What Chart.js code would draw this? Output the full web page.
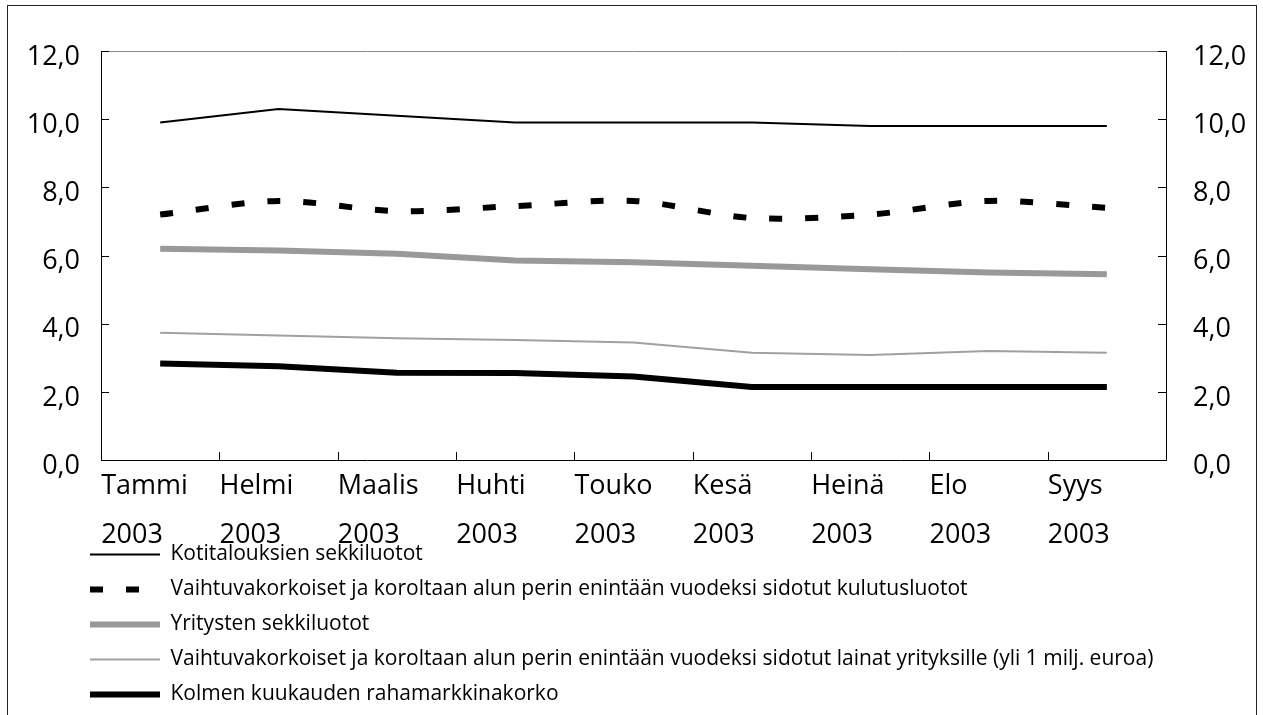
<!DOCTYPE html>
<html>
<head>
<meta charset="utf-8">
<script src="https://cdn.jsdelivr.net/npm/chart.js@4/dist/chart.umd.min.js"></script>
<style>
  html, body { margin: 0; padding: 0; background: #fff; }
  canvas { display: block; }
</style>
</head>
<body>
<canvas id="chart" width="1263" height="715"></canvas>
<script>
// ---- data ----
const months = ['Tammi', 'Helmi', 'Maalis', 'Huhti', 'Touko', 'Kesä', 'Heinä', 'Elo', 'Syys'];
const year = '2003';
const kotitalousSekki = [9.9, 10.3, 10.1, 9.9, 9.9, 9.9, 9.8, 9.8, 9.8];
const kulutusluotot = [7.2, 7.6, 7.3, 7.45, 7.6, 7.1, 7.2, 7.6, 7.4];
const yritystenSekki = [6.2, 6.15, 6.05, 5.85, 5.8, 5.7, 5.6, 5.5, 5.45];
const yrityslainat = [3.73, 3.65, 3.57, 3.52, 3.45, 3.15, 3.08, 3.2, 3.15];
const rahamarkkinakorko = [2.83, 2.75, 2.56, 2.55, 2.45, 2.14, 2.14, 2.14, 2.14];
const yMin = 0, yMax = 12, yStep = 2;

const FONT = "'Open Sans', 'DejaVu Sans', sans-serif";
const fmt = v => Number(v).toFixed(1).replace('.', ',');

// let the axis labels spill outside their boxes (the 2003 row runs into the legend)
const unclipPlugin = {
  id: 'unclip',
  afterLayout(chart) {
    chart.scales.x.bottom = chart.height;
    chart.scales.y.left = 0;
  }
};

// inward tick marks, grey top edge and the outer frame
const framePlugin = {
  id: 'frame',
  afterDraw(chart) {
    const { ctx, chartArea: a, scales } = chart;
    ctx.save();
    ctx.lineWidth = 1;
    ctx.strokeStyle = '#888';
    ctx.beginPath();
    ctx.moveTo(a.left, a.top + 0.5);
    ctx.lineTo(a.right, a.top + 0.5);
    ctx.stroke();

    ctx.strokeStyle = '#000';
    ctx.beginPath();
    scales.y.ticks.forEach(t => {
      const y = Math.round(scales.y.getPixelForValue(t.value)) + 0.5;
      ctx.moveTo(a.left, y); ctx.lineTo(a.left + 8, y);
      ctx.moveTo(a.right, y); ctx.lineTo(a.right - 8, y);
    });
    for (let i = 1; i < months.length; i++) {
      const x = Math.round((scales.x.getPixelForValue(i - 1) + scales.x.getPixelForValue(i)) / 2) + 0.5;
      ctx.moveTo(x, a.bottom); ctx.lineTo(x, a.bottom - 8);
    }
    ctx.stroke();

    ctx.strokeStyle = '#222';
    ctx.strokeRect(7.5, 5.5, 1249, 800);
    ctx.restore();
  }
};

const ctx = document.getElementById('chart').getContext('2d');
new Chart(ctx, {
  type: 'line',
  data: {
    labels: months.map(m => [m, year]),
    datasets: [
      {
        label: 'Kotitalouksien sekkiluotot',
        data: kotitalousSekki,
        borderColor: '#000',
        borderWidth: 2
      },
      {
        label: 'Vaihtuvakorkoiset ja koroltaan alun perin enintään vuodeksi sidotut kulutusluotot',
        data: kulutusluotot,
        borderColor: '#000',
        borderWidth: 6,
        borderDash: [13, 23],
        tension: 0.3
      },
      {
        label: 'Yritysten sekkiluotot',
        data: yritystenSekki,
        borderColor: '#999',
        borderWidth: 6
      },
      {
        label: 'Vaihtuvakorkoiset ja koroltaan alun perin enintään vuodeksi sidotut lainat yrityksille (yli 1 milj. euroa)',
        data: yrityslainat,
        borderColor: '#a0a0a0',
        borderWidth: 2
      },
      {
        label: 'Kolmen kuukauden rahamarkkinakorko',
        data: rahamarkkinakorko,
        borderColor: '#000',
        borderWidth: 6
      }
    ]
  },
  options: {
    responsive: false,
    animation: false,
    elements: { point: { radius: 0, hoverRadius: 0 } },
    layout: { padding: { left: 76, top: 51, right: 0, bottom: 0 } },
    plugins: {
      tooltip: { enabled: false },
      legend: {
        position: 'bottom',
        align: 'start',
        maxWidth: 300,
        labels: {
          usePointStyle: true,
          pointStyle: 'line',
          pointStyleWidth: 70,
          color: '#000',
          padding: 14,
          font: { family: FONT, size: 21 },
          generateLabels: chart =>
            Chart.defaults.plugins.legend.labels.generateLabels(chart).map(item => ({
              ...item,
              lineDash: chart.data.datasets[item.datasetIndex].borderDash || []
            }))
        }
      }
    },
    scales: {
      x: {
        offset: true,
        grid: { display: false, offset: true },
        border: { display: true, color: '#000', width: 1 },
        ticks: {
          color: '#000',
          align: 'start',
          labelOffset: -59,
          padding: -6,
          maxRotation: 0,
          autoSkip: false,
          font: { family: FONT, size: 27, lineHeight: 1.8 }
        },
        afterFit: s => { s.height = 70; }
      },
      y: {
        position: 'left',
        min: yMin, max: yMax,
        grid: { display: false },
        border: { display: true, color: '#000', width: 1 },
        ticks: {
          stepSize: yStep, color: '#000', padding: 13, labelOffset: 6,
          font: { family: FONT, size: 27 }, callback: fmt
        },
        afterFit: s => { s.width = 25; }
      },
      y2: {
        position: 'right',
        min: yMin, max: yMax,
        grid: { display: false },
        border: { display: true, color: '#000', width: 1 },
        ticks: {
          stepSize: yStep, color: '#000', padding: 19, labelOffset: 6,
          font: { family: FONT, size: 27 }, callback: fmt
        },
        afterFit: s => { s.width = 97; }
      }
    }
  },
  plugins: [unclipPlugin, framePlugin]
});
</script>
</body>
</html>
